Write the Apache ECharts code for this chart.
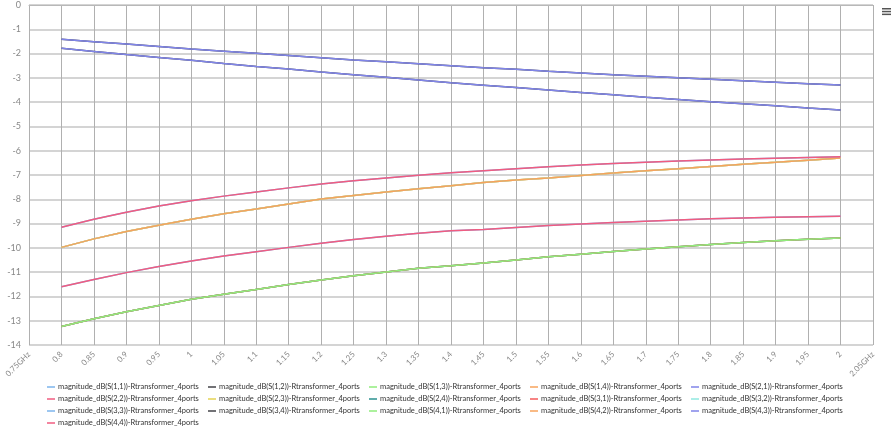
<!DOCTYPE html>
<html>
<head>
<meta charset="utf-8">
<script src="https://cdn.jsdelivr.net/npm/echarts@6/dist/echarts.min.js"></script>
<style>html,body{margin:0;padding:0;background:#fff}#c{width:896px;height:436px}</style>
</head>
<body>
<div id="c"></div>
<script>
var freqs = [0.8,0.85,0.9,0.95,1.0,1.05,1.1,1.15,1.2,1.25,1.3,1.35,1.4,1.45,1.5,1.55,1.6,1.65,1.7,1.75,1.8,1.85,1.9,1.95,2.0];
var thruA = [-1.41,-1.51,-1.61,-1.71,-1.81,-1.90,-1.99,-2.08,-2.17,-2.26,-2.34,-2.42,-2.50,-2.58,-2.65,-2.73,-2.80,-2.87,-2.93,-3.00,-3.06,-3.12,-3.18,-3.24,-3.29];
var thruB = [-1.78,-1.91,-2.04,-2.16,-2.28,-2.41,-2.53,-2.64,-2.76,-2.87,-2.98,-3.09,-3.20,-3.30,-3.40,-3.50,-3.60,-3.70,-3.80,-3.89,-3.98,-4.07,-4.15,-4.24,-4.32];
var reflUpper = [-9.15,-8.82,-8.53,-8.28,-8.06,-7.87,-7.70,-7.53,-7.37,-7.24,-7.12,-7.01,-6.91,-6.82,-6.74,-6.66,-6.59,-6.53,-6.47,-6.42,-6.38,-6.34,-6.31,-6.28,-6.25];
var coupOrange = [-9.98,-9.63,-9.33,-9.07,-8.82,-8.60,-8.40,-8.19,-7.99,-7.84,-7.70,-7.57,-7.44,-7.31,-7.21,-7.12,-7.02,-6.92,-6.83,-6.74,-6.65,-6.56,-6.48,-6.39,-6.30];
var reflLower = [-11.60,-11.30,-11.02,-10.77,-10.54,-10.34,-10.16,-9.98,-9.81,-9.66,-9.52,-9.40,-9.30,-9.24,-9.16,-9.08,-9.02,-8.96,-8.90,-8.85,-8.80,-8.77,-8.74,-8.72,-8.70];
var isoGreen = [-13.24,-12.92,-12.63,-12.37,-12.12,-11.91,-11.71,-11.51,-11.32,-11.15,-10.99,-10.84,-10.74,-10.62,-10.50,-10.37,-10.26,-10.15,-10.05,-9.95,-9.86,-9.78,-9.71,-9.65,-9.59];

var paramNames = ['S(1,1)','S(1,2)','S(1,3)','S(1,4)','S(2,1)','S(2,2)','S(2,3)','S(2,4)','S(3,1)','S(3,2)','S(3,3)','S(3,4)','S(4,1)','S(4,2)','S(4,3)','S(4,4)'];
var paramData = [reflLower, thruA, isoGreen, coupOrange, thruA, reflLower, coupOrange, isoGreen, isoGreen, coupOrange, reflUpper, thruB, isoGreen, coupOrange, thruB, reflUpper];
var palette = ['#7cb5ec','#434348','#90ed7d','#f7a35c','#8085e9','#f15c80','#e4d354','#2b908f','#f45b5b','#91e8e1'];

var xMin = 0.75, xMax = 2.05, xStep = 0.05;
var yMin = -14, yMax = 0, yStep = 1;

function pairs(arr){ return freqs.map(function(f,i){ return [f, arr[i]]; }); }

var series = paramNames.map(function(p, i){
  return {
    name: 'magnitude_dB(' + p + ')-Rtransformer_4ports',
    type: 'line',
    data: pairs(paramData[i]),
    showSymbol: false,
    symbol: 'none',
    lineStyle: { width: 1.5 },
    animation: false
  };
});

var chart = echarts.init(document.getElementById('c'));
chart.setOption({
  color: palette,
  animation: false,
  grid: { left: 29, top: 5, right: 23, bottom: 91, containLabel: false },
  xAxis: {
    type: 'value', min: xMin, max: xMax, interval: xStep,
    axisLine: { show: true, lineStyle: { color: '#b8b8b8', width: 1 } },
    axisTick: { show: false },
    splitLine: { show: true, lineStyle: { color: '#b0b0b0', width: 1 } },
    axisLabel: {
      rotate: 45, fontSize: 8, color: '#888', margin: 8, fontFamily: 'Lato',
      showMinLabel: true, showMaxLabel: true,
      formatter: function(v){
        var s = String(+v.toFixed(2));
        if (Math.abs(v - xMin) < 1e-6 || Math.abs(v - xMax) < 1e-6) s += 'GHz';
        return s;
      }
    }
  },
  yAxis: {
    type: 'value', min: yMin, max: yMax, interval: yStep,
    axisLine: { show: false },
    axisTick: { show: false },
    splitLine: { show: true, lineStyle: { color: '#d4d4d4', width: 2 } },
    axisLabel: { fontSize: 9, color: '#888', margin: 8, fontFamily: 'Lato' }
  },
  legend: {
    left: 42, top: 378, width: 830,
    orient: 'horizontal',
    icon: 'rect', itemWidth: 8, itemHeight: 1.5, itemGap: 4,
    textStyle: { fontSize: 7.5, color: '#333', width: 146, lineHeight: 8, fontFamily: 'Lato', padding: [0,0,0,-2] },
    data: series.map(function(s){ return s.name; })
  },
  graphic: [
    { type: 'rect', left: 882, top: 8, shape: { width: 9, height: 1.5 }, style: { fill: '#555' } },
    { type: 'rect', left: 882, top: 10.8, shape: { width: 9, height: 1.5 }, style: { fill: '#555' } },
    { type: 'rect', left: 882, top: 13.6, shape: { width: 9, height: 1.5 }, style: { fill: '#555' } }
  ],
  series: series
});
</script>
</body>
</html>
